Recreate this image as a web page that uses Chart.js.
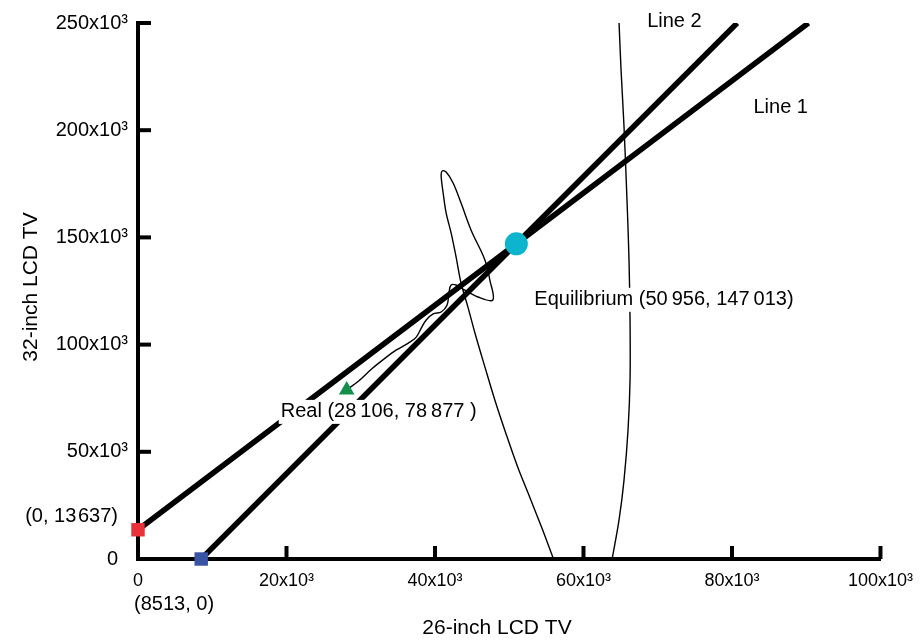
<!DOCTYPE html>
<html>
<head>
<meta charset="utf-8">
<script src="https://cdn.jsdelivr.net/npm/chart.js@4.4.1/dist/chart.umd.min.js"></script>
<style>
  html, body { margin: 0; padding: 0; background: #ffffff; }
  #wrap { width: 924px; height: 640px; position: relative; }
</style>
</head>
<body>
<div id="wrap"><canvas id="chart"></canvas></div>
<script>
// Axis ticks (units)
const xTickValues = [0, 20000, 40000, 60000, 80000, 100000];
const yTickValues = [0, 50000, 100000, 150000, 200000, 250000];

// Reaction lines of the two producers
const line1X = [0, 50956, 90300];
const line1Y = [13637, 147013, 250000];
const line2X = [8513, 50956, 80700];
const line2Y = [0, 147013, 250000];

// Key points
const interceptY = [0, 13637];   // (x, y) on the vertical axis
const interceptX = [8513, 0];    // (x, y) on the horizontal axis
const equilibrium = [50956, 147013];
const realPoint = [28106, 78877];

// Adjustment path starting from the real point
const pathX = [28106, 29720, 31460, 33330, 34810, 36410, 37480, 38150, 38820, 39760,
               40830, 41630, 41900, 42170, 42840, 43770, 45780, 47790, 47390, 46720,
               44850, 43510, 42440, 41500, 40960, 40830, 41100, 41500, 42170, 42840,
               43510, 44440, 45380, 46720, 48060, 49530, 51140, 52750, 54350, 55960];
const pathY = [78877, 83000, 88600, 93800, 97500, 100700, 103500, 107700, 111500, 114300,
               115200, 118500, 124500, 127800, 127800, 125900, 122200, 120800, 130100, 139500,
               153500, 166000, 175400, 180500, 181000, 178600, 170700, 161400, 152100, 140900,
               128700, 117500, 105400, 89600, 74200, 58800, 42900, 28900, 14900, 0];

// Path continuation re-entering from the horizontal axis
const returnX = [63860, 64790, 65460, 66000, 66270, 66270, 66130, 65860, 65460, 65060, 64790];
const returnY = [0, 18200, 36800, 60200, 83500, 111500, 139500, 167400, 201500, 228100, 250000];

const FONT = '"Liberation Sans", Arial, Helvetica, sans-serif';
const toPts = (xs, ys) => xs.map((x, i) => ({ x: x, y: ys[i] }));
const tickText = v => (v === 0 ? '0' : (v / 1000) + 'x10\u00B3');

// Inward tick marks drawn on the axes
const inwardTicks = {
  id: 'inwardTicks',
  afterDatasetsDraw(chart) {
    const { ctx, scales: { x, y } } = chart;
    const len = 13;
    ctx.save();
    ctx.strokeStyle = '#000';
    ctx.lineWidth = 4;
    ctx.lineCap = 'butt';
    xTickValues.forEach(v => {
      const px = x.getPixelForValue(v);
      ctx.beginPath();
      ctx.moveTo(px, y.bottom);
      ctx.lineTo(px, y.bottom - len);
      ctx.stroke();
    });
    yTickValues.forEach(v => {
      const py = y.getPixelForValue(v);
      ctx.beginPath();
      ctx.moveTo(x.left, py);
      ctx.lineTo(x.left + len, py);
      ctx.stroke();
    });
    ctx.restore();
  }
};

// Label drawn over a white backing box
function boxedText(ctx, text, px, py, align) {
  const w = ctx.measureText(text).width;
  const left = align === 'center' ? px - w / 2 : (align === 'right' ? px - w : px);
  ctx.fillStyle = '#fff';
  ctx.fillRect(left - 2, py - 12, w + 4, 24);
  ctx.fillStyle = '#000';
  ctx.textAlign = align;
  ctx.fillText(text, px, py);
}

// Text annotations anchored to the data points
const annotations = {
  id: 'annotations',
  afterDraw(chart) {
    const { ctx, scales: { x, y } } = chart;
    ctx.save();
    ctx.fillStyle = '#000';
    ctx.textBaseline = 'middle';
    ctx.font = '20px ' + FONT;

    boxedText(ctx, 'Equilibrium (50\u2009956, 147\u2009013)',
      x.getPixelForValue(equilibrium[0]) + 18, y.getPixelForValue(equilibrium[1]) + 56, 'left');

    boxedText(ctx, 'Real (28\u2009106, 78\u2009877 )',
      x.getPixelForValue(realPoint[0]) + 32, y.getPixelForValue(realPoint[1]) + 22, 'center');

    // Intercept labels
    ctx.textAlign = 'right';
    ctx.fillText('(0, 13\u200A637)',
      x.getPixelForValue(interceptY[0]) - 20, y.getPixelForValue(interceptY[1]) - 13);
    ctx.textAlign = 'left';
    ctx.fillText('(8513, 0)',
      x.getPixelForValue(0) - 4, y.getPixelForValue(interceptX[1]) + 45);

    // Line names
    ctx.fillText('Line 2', x.getPixelForValue(line2X[2]) - 90, y.getPixelForValue(line2Y[2]) - 2);
    ctx.fillText('Line 1', x.getPixelForValue(line1X[2]) - 55, y.getPixelForValue(line1Y[2]) + 84);

    // Axis titles
    ctx.font = '21px ' + FONT;
    ctx.textAlign = 'center';
    ctx.fillText('26-inch LCD TV', 497, 628);
    ctx.translate(31, 287);
    ctx.rotate(-Math.PI / 2);
    ctx.fillText('32-inch LCD TV', 0, 0);
    ctx.restore();
  }
};

new Chart(document.getElementById('chart'), {
  type: 'scatter',
  data: {
    datasets: [
      { data: [{ x: realPoint[0], y: realPoint[1] }], pointStyle: 'triangle', pointRadius: 9,
        backgroundColor: '#10904a', borderColor: '#10904a', borderWidth: 0 },
      { data: [{ x: equilibrium[0], y: equilibrium[1] }], pointStyle: 'circle', pointRadius: 11.5,
        backgroundColor: '#0cb4cd', borderColor: '#0cb4cd', borderWidth: 0 },
      { data: [{ x: interceptY[0], y: interceptY[1] }], pointStyle: 'rect', pointRadius: 9.5,
        backgroundColor: '#e8313b', borderColor: '#e8313b', borderWidth: 0, clip: false },
      { data: [{ x: interceptX[0], y: interceptX[1] }], pointStyle: 'rect', pointRadius: 9.5,
        backgroundColor: '#3a54a4', borderColor: '#3a54a4', borderWidth: 0, clip: false },
      { data: toPts(line1X, line1Y), showLine: true, borderColor: '#000', borderWidth: 5.5,
        pointRadius: 0, tension: 0 },
      { data: toPts(line2X, line2Y), showLine: true, borderColor: '#000', borderWidth: 5.5,
        pointRadius: 0, tension: 0 },
      { data: toPts(pathX, pathY), showLine: true, borderColor: '#000', borderWidth: 1.4,
        pointRadius: 0, tension: 0.35 },
      { data: toPts(returnX, returnY), showLine: true, borderColor: '#000', borderWidth: 1.4,
        pointRadius: 0, tension: 0.35 }
    ]
  },
  options: {
    responsive: true,
    maintainAspectRatio: false,
    animation: false,
    events: [],
    layout: { padding: { top: 23, right: 39, left: 0, bottom: 0 } },
    plugins: { legend: { display: false }, tooltip: { enabled: false } },
    scales: {
      x: {
        type: 'linear', min: 0, max: 100000,
        afterBuildTicks: s => { s.ticks = xTickValues.map(v => ({ value: v })); },
        afterFit: s => { s.height = 81; },
        grid: { display: false, drawTicks: false },
        border: { display: true, color: '#000', width: 4 },
        ticks: { color: '#000', padding: 11, maxRotation: 0, autoSkip: false,
                 font: { family: FONT, size: 18 }, callback: tickText }
      },
      y: {
        type: 'linear', min: 0, max: 250000,
        afterBuildTicks: s => { s.ticks = yTickValues.map(v => ({ value: v })); },
        afterFit: s => { s.width = 138; },
        grid: { display: false, drawTicks: false },
        border: { display: true, color: '#000', width: 4 },
        ticks: { color: '#000', padding: 10, autoSkip: false,
                 font: { family: FONT, size: 20 },
                 callback: v => (v === 0 ? '0\u2002' : tickText(v)) }
      }
    }
  },
  plugins: [inwardTicks, annotations]
});
</script>
</body>
</html>
